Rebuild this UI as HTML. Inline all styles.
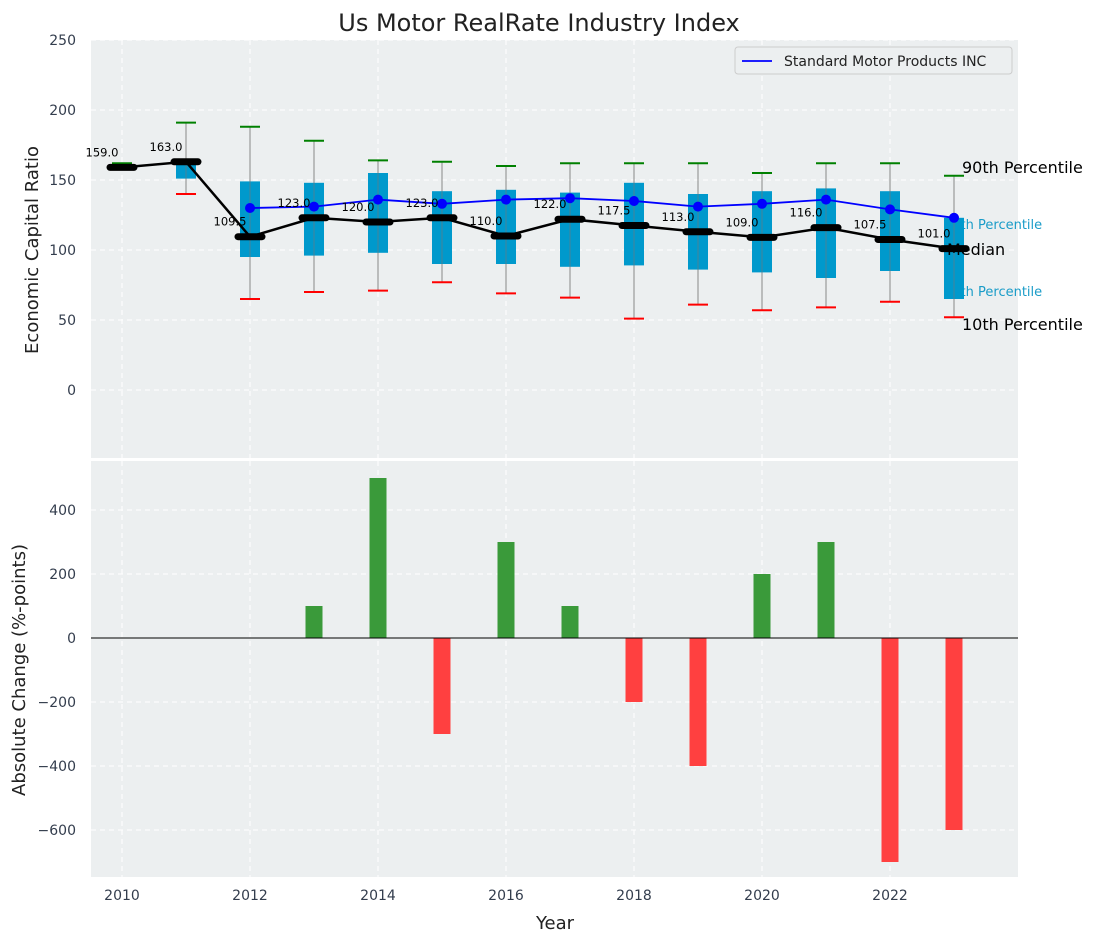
<!DOCTYPE html>
<html><head><meta charset="utf-8"><style>
body{margin:0;background:#fff;font-family:"Liberation Sans","DejaVu Sans",sans-serif}
</style></head><body>
<svg id="c" width="1097" height="942" xmlns="http://www.w3.org/2000/svg" font-family="DejaVu Sans, Liberation Sans, sans-serif"></svg>
<script>
const years=[2010,2011,2012,2013,2014,2015,2016,2017,2018,2019,2020,2021,2022,2023];
const medians=[159,163,109.5,123,120,123,110,122,117.5,113,109,116,107.5,101];
const p90=[162,191,188,178,164,163,160,162,162,162,155,162,162,153];
const p10=[159,140,65,70,71,77,69,66,51,61,57,59,63,52];
const p75=[162,163,149,148,155,142,143,141,148,140,142,144,142,123];
const p25=[159,151,95,96,98,90,90,88,89,86,84,80,85,65];
const company=[null,null,130,131,136,133,136,137,135,131,133,136,129,123];
const changes=[0,0,0,100,500,-300,300,100,-200,-400,200,300,-700,-600];
const topTicks=[0,50,100,150,200,250];
const botTicks=[-600,-400,-200,0,200,400];
const xTicks=[2010,2012,2014,2016,2018,2020,2022];

const svg=document.getElementById('c');const NS='http://www.w3.org/2000/svg';
function el(t,a,p){const e=document.createElementNS(NS,t);for(const k in a)e.setAttribute(k,a[k]);(p||svg).appendChild(e);return e;}
const X=y=>122+(y-2010)*64;
const Yt=v=>390-v*1.4;
const Yb=v=>638-v*0.32;
const L=91,R=1018;
let pt=el('rect',{x:L,y:40,width:R-L,height:418,fill:'#eceff0'});

let pb=el('rect',{x:L,y:461,width:R-L,height:416,fill:'#eceff0'});

xTicks.forEach(t=>{
 el('line',{x1:X(t),x2:X(t),y1:40,y2:458,stroke:'#fff','stroke-dasharray':'5,4'});
 el('line',{x1:X(t),x2:X(t),y1:461,y2:877,stroke:'#fff','stroke-dasharray':'5,4'});
 let tx=el('text',{x:X(t),y:900,'text-anchor':'middle','font-size':14,fill:'#333d4d'});tx.textContent=t;
 
});
topTicks.forEach(t=>{
 el('line',{x1:L,x2:R,y1:Yt(t),y2:Yt(t),stroke:'#fff','stroke-dasharray':'5,4'});
 let tx=el('text',{x:76,y:Yt(t)+5,'text-anchor':'end','font-size':14,fill:'#333d4d'});tx.textContent=t;
 
});
botTicks.forEach(t=>{
 el('line',{x1:L,x2:R,y1:Yb(t),y2:Yb(t),stroke:'#fff','stroke-dasharray':'5,4'});
 let tx=el('text',{x:76,y:Yb(t)+5,'text-anchor':'end','font-size':14,fill:'#333d4d'});tx.textContent=t<0?'\u2212'+(-t):t;
 
});
const last=years.length-1,xl=X(years[last]);
let t75=el('text',{x:xl-10,y:Yt(p75[last])+11,'font-size':13,fill:'#1a9cc8'});t75.textContent='75th Percentile';

let t25=el('text',{x:xl-10,y:Yt(p25[last])-3,'font-size':13,fill:'#1a9cc8'});t25.textContent='25th Percentile';

years.forEach((y,i)=>{
 const x=X(y);
 let w=el('line',{x1:x,x2:x,y1:Yt(p90[i]),y2:Yt(p10[i]),stroke:'#888','stroke-width':1});
 
 let b=el('rect',{x:x-10,y:Yt(p75[i]),width:20,height:Yt(p25[i])-Yt(p75[i]),fill:'#0099cc'});
 
 el('line',{x1:x,x2:x,y1:Yt(p75[i]),y2:Yt(p25[i]),stroke:'#777','stroke-width':1,opacity:0.6});
 let g=el('line',{x1:x-10,x2:x+10,y1:Yt(p90[i]),y2:Yt(p90[i]),stroke:'green','stroke-width':2});
 
 if(p10[i]!==medians[i]){let r=el('line',{x1:x-10,x2:x+10,y1:Yt(p10[i]),y2:Yt(p10[i]),stroke:'red','stroke-width':2});
 }
});
let pts=years.map((y,i)=>company[i]==null?null:X(y)+','+Yt(company[i])).filter(Boolean).join(' ');
let cl=el('polyline',{points:pts,fill:'none',stroke:'blue','stroke-width':1.8});

years.forEach((y,i)=>{if(company[i]==null)return;let c=el('circle',{cx:X(y),cy:Yt(company[i]),r:5,fill:'blue'});
 });
let ml=el('polyline',{points:years.map((y,i)=>X(y)+','+Yt(medians[i])).join(' '),fill:'none',stroke:'#000','stroke-width':2.5});

years.forEach((y,i)=>{
 let m=el('line',{x1:X(y)-12,x2:X(y)+12,y1:Yt(medians[i]),y2:Yt(medians[i]),stroke:'#000','stroke-width':7,'stroke-linecap':'round'});
 
 let t=el('text',{x:X(y)-20,y:Yt(medians[i])-11,'text-anchor':'middle','font-size':11.5,fill:'#000'});t.textContent=medians[i].toFixed(1);
 
});
[['90th Percentile',962,173],['Median',947,255],['10th Percentile',962,330]].forEach(d=>{
 let t=el('text',{x:d[1],y:d[2],'font-size':16,fill:'#000'});t.textContent=d[0];
 
});
let lg=el('g',{});
el('rect',{x:735,y:47,width:277,height:27,rx:3,fill:'#eceff0',stroke:'#ccc'},lg);
el('line',{x1:742,x2:772,y1:61,y2:61,stroke:'blue','stroke-width':1.8},lg);
let lt=el('text',{x:784,y:66,'font-size':14,fill:'#222'},lg);lt.textContent='Standard Motor Products INC';
years.forEach((y,i)=>{
 const v=changes[i];if(!v)return;
 let b=el('rect',{x:X(y)-8.5,y:Math.min(Yb(0),Yb(v)),width:17,height:Math.abs(Yb(v)-Yb(0)),fill:v>0?'#3a9a3a':'#ff4040'});
 
});
el('line',{x1:L,x2:R,y1:Yb(0),y2:Yb(0),stroke:'#000','stroke-width':1});
let ti=el('text',{x:539,y:31,'text-anchor':'middle','font-size':24,fill:'#222'});ti.textContent='Us Motor RealRate Industry Index';

let xa=el('text',{x:555,y:929,'text-anchor':'middle','font-size':18,fill:'#222'});xa.textContent='Year';

let ya=el('text',{x:0,y:0,transform:'translate(38,250) rotate(-90)','text-anchor':'middle','font-size':18,fill:'#222'});ya.textContent='Economic Capital Ratio';

let yb=el('text',{x:0,y:0,transform:'translate(25,670) rotate(-90)','text-anchor':'middle','font-size':18,fill:'#222'});yb.textContent='Absolute Change (%-points)';

</script>
</body></html>
